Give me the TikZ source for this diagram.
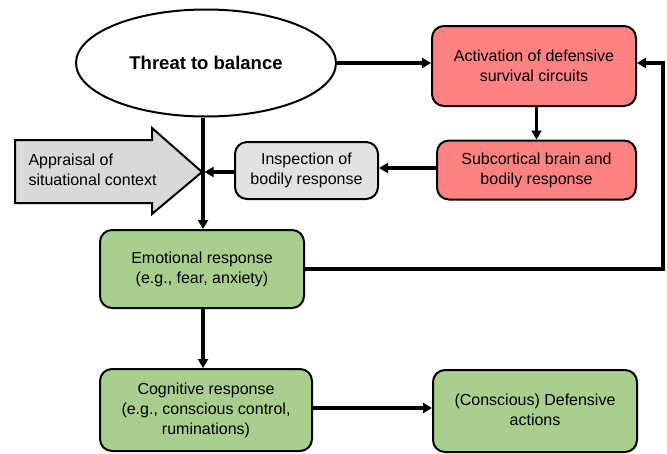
\documentclass[tikz,border=0pt]{standalone}
\usepackage{fontspec}
\setmainfont{Liberation Sans}
\usetikzlibrary{shapes.geometric,arrows.meta}
\definecolor{redbox}{HTML}{FF8282}
\definecolor{greenbox}{HTML}{A9CF8F}
\definecolor{graybox}{HTML}{E2E2E2}
\definecolor{grayarrow}{HTML}{D9D9D9}
\tikzset{
  x=1pt, y=-1pt,
  txt/.style={font=\fontsize{16}{20}\selectfont, align=center},
  rbox/.style={txt, draw, line width=2pt, rounded corners=12pt, inner sep=0pt},
  arr/.style={line width=3.2pt, -{Triangle[length=9pt,width=10pt]}},
}
\begin{document}
\begin{tikzpicture}
\useasboundingbox (0,0) rectangle (667,453);
% nodes
\node[ellipse, draw, line width=2pt, fill=white, minimum width=260pt, minimum height=107pt,
  font=\fontsize{18.5}{22}\selectfont\bfseries] (threat) at (206,63) {Threat to balance};
\node[rbox, fill=redbox, minimum width=204pt, minimum height=80pt] (act) at (534,66)
  {Activation of defensive\\survival circuits};
\node[rbox, fill=redbox, minimum width=199pt, minimum height=59pt] (sub) at (536.5,170)
  {Subcortical brain and\\bodily response};
\node[rbox, fill=graybox, minimum width=143pt, minimum height=57pt] (insp) at (306.5,170.5)
  {Inspection of\\bodily response};
\node[rbox, fill=greenbox, minimum width=204pt, minimum height=78pt] (emo) at (202,269)
  {Emotional response\\(e.g., fear, anxiety)};
\node[rbox, fill=greenbox, minimum width=212pt, minimum height=82pt] (cog) at (206,410)
  {Cognitive response\\(e.g., conscious control,\\ruminations)};
\node[rbox, fill=greenbox, minimum width=204pt, minimum height=82pt] (def) at (535,411)
  {\raisebox{4pt}{\begin{tabular}{@{}c@{}}(Conscious) Defensive\\actions\end{tabular}}};
% appraisal big arrow
\draw[line width=2pt, fill=grayarrow] (15,140) -- (152,140) -- (152,128) -- (202,172)
  -- (152,214) -- (152,203) -- (15,203) -- cycle;
\node[txt, align=left, anchor=west] (appr) at (25,170) {Appraisal of\\situational context};
\coordinate (j) at (203,172);
\coordinate (rt) at (663,0);
% connectors
\draw[arr] (threat.east) -- (act.west |- threat.east);
\draw[arr] (act.south -| sub.north) -- (sub.north);
\draw[arr] (sub.west |- 0,168) -- (insp.east |- 0,168);
\draw[arr] (insp.west |- j) -- ([xshift=1.6pt]j);
\draw[arr] (j |- threat.south) -- (j |- emo.north);
\draw[arr] (emo.east) -- (rt |- emo.east) |- (act.east |- 0,63);
\draw[arr] (j |- emo.south) -- (j |- cog.north);
\draw[arr] (cog.east |- 0,408) -- (def.west |- 0,408);
\end{tikzpicture}
\end{document}
